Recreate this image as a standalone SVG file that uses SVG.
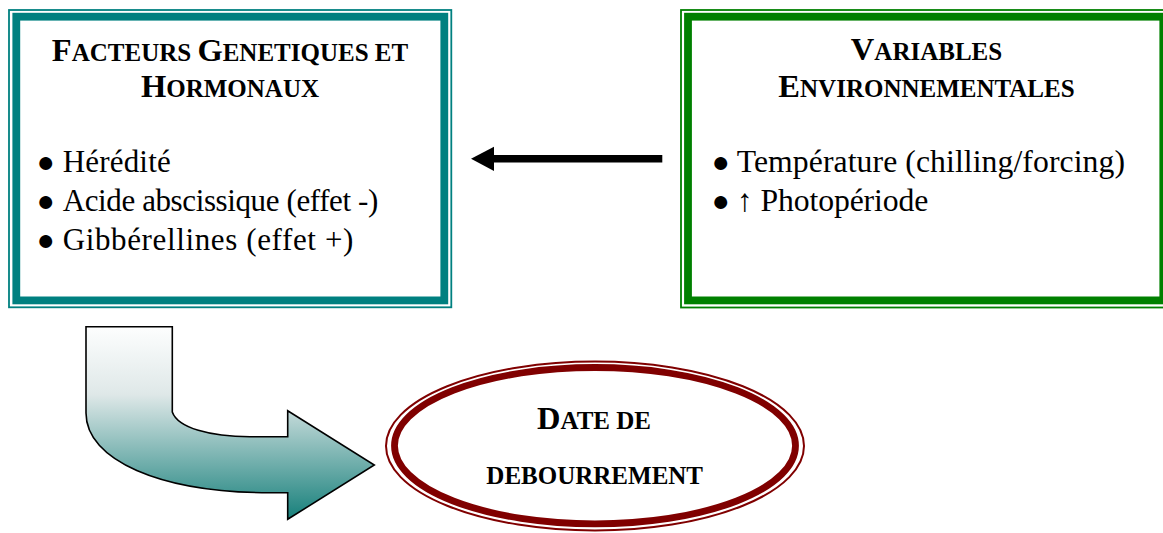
<svg xmlns="http://www.w3.org/2000/svg" width="1163" height="533" viewBox="0 0 1163 533">
<style>
.t{font-family:"Liberation Serif","Times New Roman",serif;fill:#000}
.ti{font-weight:bold;text-anchor:middle}
.L{font-size:32.5px}
.s{font-size:25px}
.b{font-size:31px}
.br{font-size:31.7px}
.bul{font-size:30px}
</style>
<defs>
<linearGradient id="g" gradientUnits="userSpaceOnUse" x1="0" y1="327" x2="0" y2="519">
<stop offset="0" stop-color="#fdfefe"/>
<stop offset="0.35" stop-color="#dfe8e8"/>
<stop offset="1" stop-color="#17807b"/>
</linearGradient>
</defs>
<rect width="1163" height="533" fill="#fff"/>
<g id="node-genetic">
<rect x="9" y="10" width="442.3" height="297.3" fill="none" stroke="#008080" stroke-width="1.8"/>
<rect x="16.3" y="16.7" width="428" height="283.7" fill="#fff" stroke="#008080" stroke-width="7.8"/>
<text class="t ti" x="230" y="60.7"><tspan class="L">F</tspan><tspan class="s">ACTEURS </tspan><tspan class="L">G</tspan><tspan class="s">ENETIQUES ET</tspan></text>
<text class="t ti" x="230" y="96.7"><tspan class="L">H</tspan><tspan class="s">ORMONAUX</tspan></text>
<text class="t bul" x="36.5" y="172">●</text>
<text class="t bul" x="36.5" y="211.3">●</text>
<text class="t bul" x="36.5" y="250.3">●</text>
<text class="t b" x="62.7" y="171.7" textLength="108" lengthAdjust="spacing">Hérédité</text>
<text class="t b" x="62.7" y="211" textLength="315.6" lengthAdjust="spacing">Acide abscissique (effet -)</text>
<text class="t b" x="62.7" y="250" textLength="290.7" lengthAdjust="spacing">Gibbérellines (effet +)</text>
</g>
<g id="node-env">
<rect x="681" y="10" width="500" height="297.5" fill="none" stroke="#008000" stroke-width="1.8"/>
<rect x="688" y="16.7" width="475.3" height="283.7" fill="#fff" stroke="#008000" stroke-width="7.8"/>
<text class="t ti" x="926.5" y="60"><tspan class="L">V</tspan><tspan class="s">ARIABLES</tspan></text>
<text class="t ti" x="926.5" y="96.7"><tspan class="L">E</tspan><tspan class="s">NVIRONNEMENTALES</tspan></text>
<text class="t bul" x="711.5" y="172">●</text>
<text class="t bul" x="711.5" y="211.3">●</text>
<text class="t br" x="736.7" y="171.7" textLength="388.3" lengthAdjust="spacing">Température (chilling/forcing)</text>
<text class="t br" x="737" y="211" textLength="191.3" lengthAdjust="spacing">↑ Photopériode</text>
</g>
<g id="node-date">
<ellipse cx="595" cy="446" rx="209" ry="84.5" fill="none" stroke="#800000" stroke-width="2"/>
<ellipse cx="595" cy="445.7" rx="200.5" ry="78.2" fill="#fff" stroke="#800000" stroke-width="6.8"/>
<text class="t ti" x="594" y="429"><tspan class="L">D</tspan><tspan class="s">ATE DE</tspan></text>
<text class="t ti s" x="594.7" y="484">DEBOURREMENT</text>
</g>
<g id="connectors">
<line x1="662.3" y1="158.8" x2="490" y2="158.8" stroke="#000" stroke-width="7.5"/>
<polygon points="471,158.8 494,146.7 494,170.9" fill="#000"/>
<path d="M86,326.7 L172.3,326.7 L172.3,412 C178,428 210,436.7 250,436.7 L287.7,436.7 L287.7,410.7 L374.3,465 L287.7,519.3 L287.7,492.7 L270,492.7 C160,492.7 86,460 86,413 Z" fill="url(#g)" stroke="#000" stroke-width="1.6" stroke-linejoin="miter"/>
</g>
</svg>
